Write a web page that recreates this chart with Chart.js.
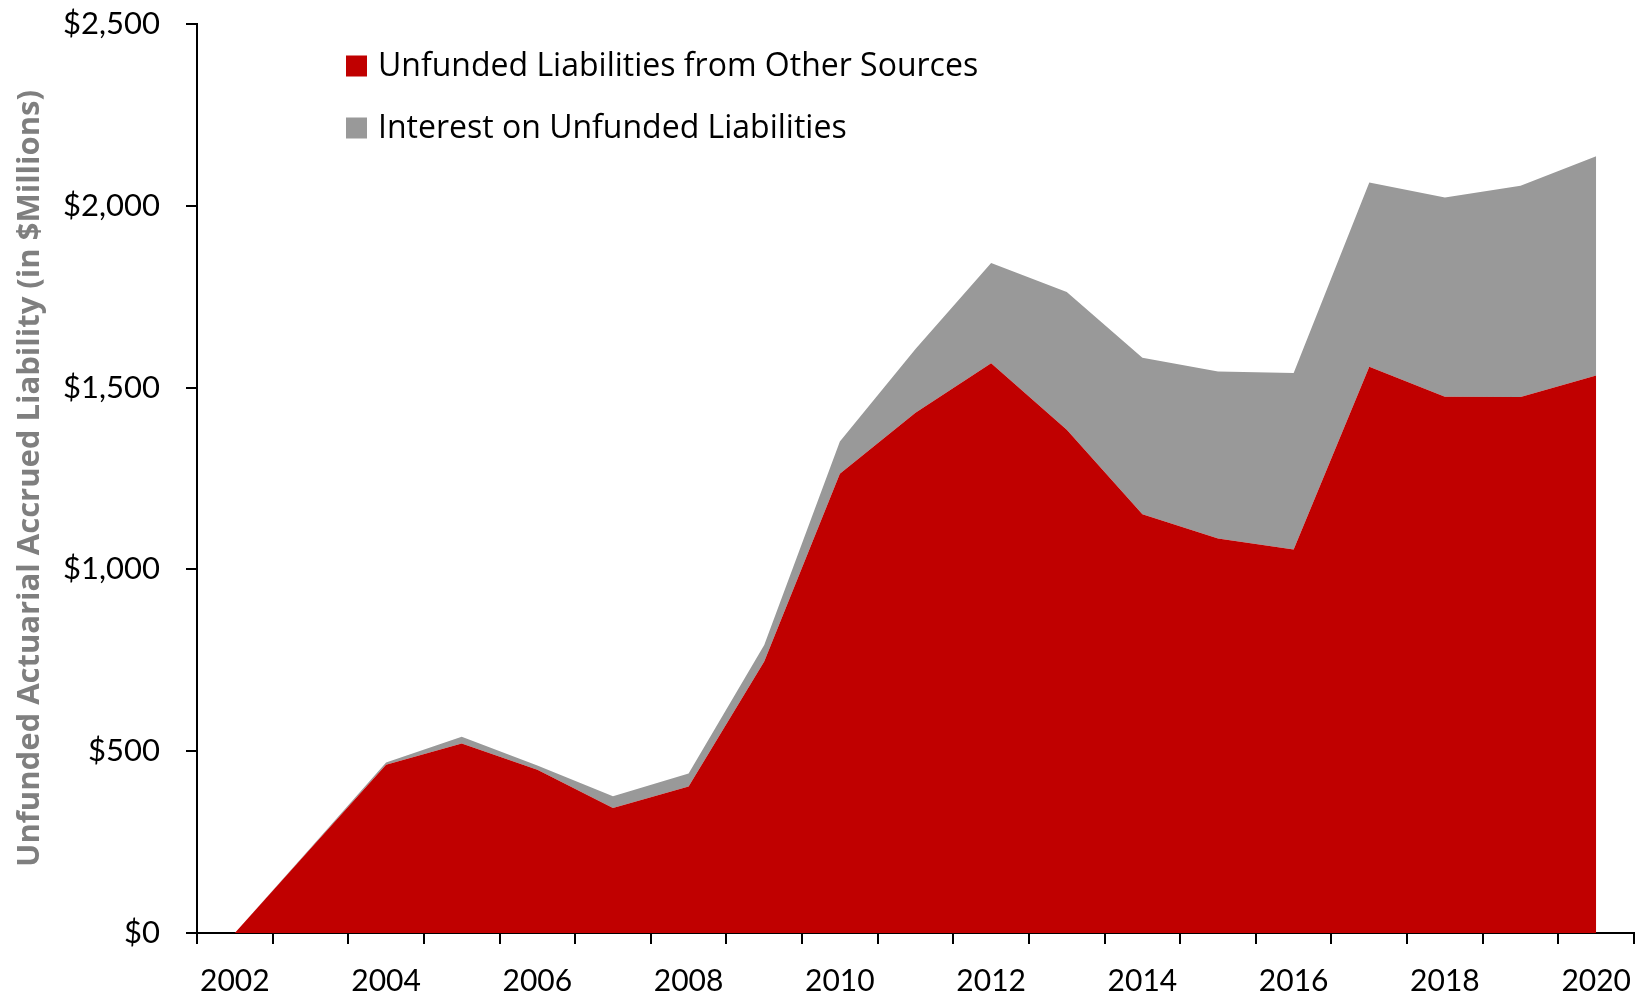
<!DOCTYPE html>
<html>
<head>
<meta charset="utf-8">
<title>Unfunded Actuarial Accrued Liability</title>
<script src="https://cdn.jsdelivr.net/npm/chart.js@4.4.1/dist/chart.umd.min.js"></script>
<style>
    html, body { margin: 0; padding: 0; background: #fff; }
    #chart { display: block; }
</style>
</head>
<body>
<canvas id="chart" width="1646" height="998"></canvas>
<script>
// values, $ millions
const years = ['2002', '2003', '2004', '2005', '2006', '2007', '2008', '2009', '2010', '2011',
               '2012', '2013', '2014', '2015', '2016', '2017', '2018', '2019', '2020'];
const otherSources = [0, 232, 463, 521, 449, 344, 403, 747, 1263, 1431,
                      1567, 1384, 1152, 1085, 1055, 1557, 1475, 1474, 1533];
const interest = [0, 2, 6, 19, 12, 32, 36, 45, 89, 175,
                  276, 379, 430, 459, 485, 507, 548, 581, 603];
const tickYears = ['2002', '2004', '2006', '2008', '2010', '2012', '2014', '2016', '2018', '2020'];
const yMin = 0, yMax = 2500, yStep = 500;

const RED = '#c00000';
const GREY = '#999999';

Chart.defaults.font.family = 'Lato, "Open Sans", sans-serif';
Chart.defaults.color = '#000';

// legend drawn inside the plot, top left, stacked vertically
const insideLegend = {
    id: 'insideLegend',
    afterDraw(chart) {
        const ctx = chart.ctx;
        const items = [chart.data.datasets[0], chart.data.datasets[1]];
        ctx.save();
        ctx.font = '32px "Open Sans", Lato, sans-serif';
        ctx.textBaseline = 'middle';
        ctx.textAlign = 'left';
        items.forEach((ds, i) => {
            const cy = 66 + i * 62;
            ctx.fillStyle = ds.backgroundColor;
            ctx.fillRect(346, cy - 10.5, 21, 21);
            ctx.fillStyle = '#000';
            ctx.fillText(ds.label, 378, cy + 1);
        });
        ctx.restore();
    }
};

const ctx = document.getElementById('chart').getContext('2d');
new Chart(ctx, {
    type: 'line',
    data: {
        labels: years,
        datasets: [
            {
                label: 'Unfunded Liabilities from Other Sources',
                data: otherSources,
                backgroundColor: RED,
                borderWidth: 0,
                pointRadius: 0,
                fill: 'origin'
            },
            {
                label: 'Interest on Unfunded Liabilities',
                data: interest,
                backgroundColor: GREY,
                borderWidth: 0,
                pointRadius: 0,
                fill: '-1'
            }
        ]
    },
    options: {
        responsive: false,
        animation: false,
        layout: { padding: { top: 24, right: 12, left: 0, bottom: 0 } },
        elements: { line: { tension: 0 } },
        plugins: {
            legend: { display: false },
            tooltip: { enabled: false }
        },
        scales: {
            x: {
                type: 'category',
                offset: true,
                grid: {
                    offset: true,
                    drawOnChartArea: false,
                    drawTicks: true,
                    tickLength: 11,
                    color: '#000',
                    lineWidth: 2
                },
                border: { display: true, color: '#000', width: 2 },
                ticks: {
                    autoSkip: false,
                    maxRotation: 0,
                    padding: 19,
                    font: { size: 30 },
                    callback: function(value) {
                        const lbl = this.getLabelForValue(value);
                        return tickYears.includes(lbl) ? lbl : '';
                    }
                },
                afterFit: (scale) => {
                    scale.height = 65;
                    scale.paddingLeft = 0;
                    scale.paddingRight = 0;
                }
            },
            y: {
                stacked: true,
                min: yMin,
                max: yMax,
                grid: {
                    drawOnChartArea: false,
                    drawTicks: true,
                    tickLength: 11,
                    color: '#000',
                    lineWidth: 2
                },
                border: { display: true, color: '#000', width: 2 },
                ticks: {
                    stepSize: yStep,
                    padding: 26,
                    font: { size: 31 },
                    callback: (v) => '$' + v.toLocaleString('en-US')
                },
                title: {
                    display: true,
                    text: 'Unfunded Actuarial Accrued Liability (in $Millions)',
                    color: '#7f7f7f',
                    font: { family: '"Open Sans", Lato, sans-serif', size: 31, weight: 'bold' },
                    padding: { top: 12, bottom: 0 }
                },
                afterFit: (scale) => {
                    scale.width = 197;
                    scale.paddingTop = 0;
                    scale.paddingBottom = 0;
                }
            }
        }
    },
    plugins: [insideLegend]
});
</script>
</body>
</html>
